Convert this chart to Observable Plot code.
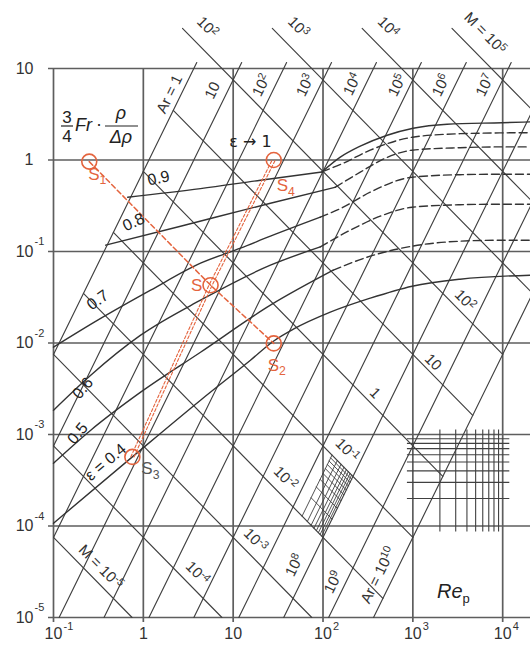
<!DOCTYPE html>
<html><head><meta charset="utf-8">
<script src="https://cdn.jsdelivr.net/npm/d3@7"></script>
<script src="https://cdn.jsdelivr.net/npm/@observablehq/plot@0.6"></script>
<style>body{margin:0;background:#fff}</style>
</head><body><div id="chart"></div>
<script>
// ---------- axis ticks ----------
const xTicks = [0.1, 1, 10, 100, 1000, 10000];
const xTickBase = ["10", "1", "10", "10", "10", "10"];
const xTickExp = ["-1", "", "", "2", "3", "4"];
const yTicks = [1e-5, 1e-4, 1e-3, 1e-2, 1e-1, 1, 10];
const yTickBase = ["10", "10", "10", "10", "10", "1", "10"];
const yTickExp = ["-5", "-4", "-3", "-2", "-1", "", ""];

// ---------- parameter lines ----------
const arValues = [1, 1e1, 1e2, 1e3, 1e4, 1e5, 1e6, 1e7, 1e8, 1e9, 1e10];
const mValues = [1e-5, 1e-4, 1e-3, 1e-2, 1e-1, 1, 1e1, 1e2, 1e3, 1e4, 1e5];
const subSteps = [2, 3, 4, 5, 6, 7, 8, 9];

// Ar labels (text, Re, Y)
const arLabelText = ["Ar = 1", "10", "10^2", "10^3", "10^4", "10^5", "10^6", "10^7", "10^8", "10^9", "Ar = 10^10"];
const arLabelRe = [1.96, 5.89, 20.6, 63.5, 212, 670, 2061, 6350, 48, 130, 411];
const arLabelY = [5.24, 5.78, 6.55, 6.55, 6.73, 6.55, 6.55, 6.55, 3.73e-5, 2.43e-5, 2.9e-5];
// M labels
const mLabelText = ["10^2", "10^3", "10^4", "M = 10^5", "10^2", "10", "1", "10^-1", "10^-2", "10^-3", "10^-4", "M = 10^-5"];
const mLabelRe = [5.18, 53.2, 532, 6360, 3815, 1683, 381, 186, 38.1, 17.7, 4.01, 0.336];
const mLabelY = [28.3, 28.3, 28.3, 24.3, 0.0294, 6.18e-3, 2.83e-3, 6.75e-4, 3.33e-4, 7e-5, 3.05e-5, 3.55e-5];

// ---------- voidage curves ----------
const eps1Re = [97.5, 155.7, 259.7, 518, 1008, 2405, 9822, 20100];
const eps1Y = [0.741, 1.073, 1.415, 1.866, 2.226, 2.462, 2.557, 2.609];
const eps09Re = [0.669, 4.33, 20.1, 97.5, 168, 335, 993, 3355, 9822, 20100];
const eps09Y = [0.392, 0.486, 0.601, 0.741, 0.923, 1.28, 1.775, 1.94, 1.978, 1.988];
const eps08Re = [0.381, 2.597, 25.97, 137, 259.7, 492.4, 982, 3355, 9822, 20100];
const eps08Y = [0.1172, 0.189, 0.337, 0.5043, 0.7357, 1.046, 1.28, 1.363, 1.391, 1.391];
const eps07Re = [0.1, 0.3106, 1.205, 4.33, 12.05, 25.97, 93.3, 168, 335, 982, 3355, 9822, 20100];
const eps07Y = [0.009, 0.01775, 0.03776, 0.07449, 0.1087, 0.147, 0.2371, 0.3049, 0.4446, 0.6486, 0.6909, 0.6996, 0.6996];
const eps06Re = [0.1, 0.2597, 0.9333, 4.33, 25.97, 93.3, 201, 433.2, 982, 3355, 9822, 20100];
const eps06Y = [1.843e-3, 4.446e-3, 0.01217, 0.02936, 0.07084, 0.1123, 0.1709, 0.2431, 0.3049, 0.3246, 0.3289, 0.3289];
const eps05Re = [0.1, 0.2597, 0.9333, 4.33, 25.97, 130.1, 335, 982, 3355, 9822, 20100];
const eps05Y = [4.856e-4, 1.114e-3, 2.9e-3, 7.93e-3, 0.02589, 0.06246, 0.08884, 0.1143, 0.1296, 0.1329, 0.1329];
const eps04Re = [0.1, 0.7546, 4.33, 15.57, 28.04, 46.77, 120.5, 335.4, 982, 3355, 20100];
const eps04Y = [1.073e-4, 5.69e-4, 2.371e-3, 6.486e-3, 0.01046, 0.01415, 0.02171, 0.03087, 0.04176, 0.04981, 0.05508];
const epsNames = ["1", "0.9", "0.8", "0.7", "0.6", "0.5", "0.4"];
const epsSolidEnd = [7, 3, 3, 6, 5, 5, 10]; // last index of the solid part

const epsLabelText = ["0.9", "0.8", "0.7", "0.6", "0.5", "ε = 0.4"];
const epsLabelRe = [1.48, 0.78, 0.311, 0.212, 0.186, 0.381];
const epsLabelY = [0.632, 0.209, 0.0294, 3.2e-3, 1.03e-3, 4.98e-4];
const epsLabelRot = [-12, -25, -35, -50, -50, -40];
const epsArrowText = ["ε → 1"];
const epsArrowRe = [15.6];
const epsArrowY = [1.57];

// ---------- example states ----------
const stateName = ["S_1", "S", "S_2", "S_3", "S_4"];
const stateRe = [0.25, 5.6, 28.3, 0.755, 28.3];
const stateY = [0.96, 0.0428, 0.0099, 5.69e-4, 1.0];

// ---------- geometry helpers ----------
const xMax = 20400, yMin = 1e-5, yMax = 10;
const K = 0.75;
const arTopY = 11.6, mTopY = 27.5;
const gridColor = "#5e5e5e", lineColor = "#404040", red = "#e4643e";

const arLines = arValues.flatMap(ar => {
  const r0 = Math.max(0.1, Math.sqrt(ar * yMin / K));
  const r1 = Math.min(xMax, Math.sqrt(ar * arTopY / K));
  return [r0, r1].map(r => ({ar, Re: r, Y: K * r * r / ar}));
});
const mLines = mValues.flatMap(m => {
  const top = m >= 100 ? mTopY : yMax;
  let r0 = Math.max(0.1, K * m / top);
  const rc = Math.cbrt(m);
  if (K * m / rc <= yMax) r0 = Math.max(r0, rc);
  const r1 = Math.min(xMax, K * m / yMin, Math.cbrt(1e10 * m));
  return [r0, r1].map(r => ({m, Re: r, Y: K * m / r}));
});
// skewed logarithmic sub-grid between Ar 1e7..1e8 and M 1e-2..1e-1
const fanAr = subSteps.flatMap(k => {
  const ar = k * 1e7;
  return [Math.cbrt(1e-2 * ar), Math.cbrt(1e-1 * ar)].map(r => ({k, Re: r, Y: K * r * r / ar}));
});
const fanM = subSteps.flatMap(k => {
  const m = k * 1e-2;
  return [Math.cbrt(m * 2e7), Math.cbrt(m * 1e8)].map(r => ({k, Re: r, Y: K * m / r}));
});
// rectangular logarithmic sub-grid
const subH = subSteps.map(k => k * 1e-4);
const subV = subSteps.map(k => k * 1e3);

const epsRe = [eps1Re, eps09Re, eps08Re, eps07Re, eps06Re, eps05Re, eps04Re];
const epsY = [eps1Y, eps09Y, eps08Y, eps07Y, eps06Y, eps05Y, eps04Y];
const epsSolid = [], epsDashed = [];
epsNames.forEach((e, i) => {
  epsRe[i].forEach((r, j) => {
    if (j <= epsSolidEnd[i]) epsSolid.push({e, Re: r, Y: epsY[i][j]});
    if (j >= epsSolidEnd[i] && epsSolidEnd[i] < epsRe[i].length - 1) epsDashed.push({e, Re: r, Y: epsY[i][j]});
  });
});

const yTickRows = yTicks.map((v, i) => ({v, b: yTickBase[i], e: yTickExp[i]}));
const xTickRows = xTicks.map((v, i) => ({v, b: xTickBase[i], e: xTickExp[i]}));
const arLab = arLabelText.map((t, i) => ({t, Re: arLabelRe[i], Y: arLabelY[i]}));
const mLab = mLabelText.map((t, i) => ({t, Re: mLabelRe[i], Y: mLabelY[i]}));
const epsLab = epsLabelText.map((t, i) => ({t, Re: epsLabelRe[i], Y: epsLabelY[i], r: epsLabelRot[i]}));
const epsArrow = epsArrowText.map((t, i) => ({t, Re: epsArrowRe[i], Y: epsArrowY[i]}));
const states = stateName.map((n, i) => ({n, Re: stateRe[i], Y: stateY[i]}));
const pathM = [states[0], states[1], states[2]];
const pathAr = [states[3], states[1], states[4]];
// label offsets of the states (px)
const stateDx = [8, -14, 3, 18, 12];
const stateDy = [13, 0, 22, 12, 26];

const font = "Liberation Sans, Arial, Helvetica, sans-serif";

const stateLabels = states.map((s, i) => Plot.text([s], {x: "Re", y: "Y", text: "n", fontSize: 17,
  fill: s.n === "S_3" ? "#555" : red, dx: stateDx[i], dy: stateDy[i]}));

const plot = Plot.plot({
  width: 530, height: 659,
  marginLeft: 53, marginRight: 0, marginTop: 68, marginBottom: 42,
  x: {type: "log", domain: [0.1, xMax], axis: null},
  y: {type: "log", domain: [yMin, yMax], axis: null},
  style: {fontFamily: font, background: "white", overflow: "visible"},
  marks: [
    // grid with small overhang ticks
    Plot.ruleX(xTicks, {x: d => d, y1: 8.8e-6, y2: yMax, stroke: gridColor, strokeWidth: 1.7}),
    Plot.ruleY(yTicks, {y: d => d, x1: 0.088, x2: xMax, stroke: gridColor, strokeWidth: 1.7}),
    // log sub-grid
    Plot.ruleY(subH, {y: d => d, x1: 870, x2: 12000, stroke: lineColor, strokeWidth: 1.1}),
    Plot.ruleX(subV, {x: d => d, y1: 8.6e-5, y2: 1.12e-3, stroke: lineColor, strokeWidth: 1.1}),
    // parameter lines
    Plot.line(arLines, {x: "Re", y: "Y", z: "ar", stroke: lineColor, strokeWidth: 1.15}),
    Plot.line(mLines, {x: "Re", y: "Y", z: "m", stroke: lineColor, strokeWidth: 1.15}),
    Plot.line(fanAr, {x: "Re", y: "Y", z: "k", stroke: lineColor, strokeWidth: 0.9}),
    Plot.line(fanM, {x: "Re", y: "Y", z: "k", stroke: lineColor, strokeWidth: 0.9}),
    // voidage curves
    Plot.line(epsSolid, {x: "Re", y: "Y", z: "e", stroke: "#333", strokeWidth: 1.4, curve: "monotone-x"}),
    Plot.line(epsDashed, {x: "Re", y: "Y", z: "e", stroke: "#333", strokeWidth: 1.4, strokeDasharray: "8,4", curve: "monotone-x"}),
    // example paths
    Plot.line(pathM, {x: "Re", y: "Y", stroke: red, strokeWidth: 1.5, strokeDasharray: "5,3"}),
    Plot.line(pathAr, {x: "Re", y: "Y", stroke: red, strokeWidth: 1.1, strokeDasharray: "3,2", dx: -1.6}),
    Plot.line(pathAr, {x: "Re", y: "Y", stroke: red, strokeWidth: 1.1, strokeDasharray: "3,2", dx: 1.6}),
    Plot.dot(states, {x: "Re", y: "Y", r: 7.5, stroke: red, strokeWidth: 1.6, fill: "none"}),
    // labels of lines
    Plot.text(arLab, {x: "Re", y: "Y", text: "t", rotate: -64, fontSize: 15, fill: "#333"}),
    Plot.text(mLab, {x: "Re", y: "Y", text: "t", rotate: 45, fontSize: 15, fill: "#333"}),
    Plot.text(epsLab, {x: "Re", y: "Y", text: "t", rotate: "r", fontSize: 16, fill: "#222"}),
    Plot.text(epsArrow, {x: "Re", y: "Y", text: "t", fontSize: 16, fill: "#222", fontFamily: "DejaVu Sans, sans-serif"}),
    // tick labels
    Plot.text(yTickRows, {x: 0.1, y: "v", text: "b", textAnchor: "end", dx: -20, fontSize: 16, fill: "#333"}),
    Plot.text(yTickRows.filter(d => d.e), {x: 0.1, y: "v", text: "e", textAnchor: "start", dx: -19, dy: -10, fontSize: 11, fill: "#333"}),
    Plot.text(xTickRows, {x: "v", y: yMin, text: "b", dy: 16, fontSize: 16, fill: "#333"}),
    Plot.text(xTickRows.filter(d => d.e), {x: "v", y: yMin, text: "e", textAnchor: "start", dx: 10, dy: 9, fontSize: 11, fill: "#333"}),
    ...stateLabels
  ]
});

// rich text: ^ superscript, _ subscript
d3.select(plot).selectAll("text").each(function() {
  const el = this;
  const tgt = el.querySelector("tspan") ? el.querySelectorAll("tspan") : [el];
  tgt.forEach(node => {
    const s = node.textContent;
    if (!/[\^_]/.test(s)) return;
    const m = s.match(/^(.*?)([\^_])(.+)$/);
    node.textContent = "";
    const sel = d3.select(node);
    sel.append("tspan").text(m[1]);
    sel.append("tspan").attr("dy", m[2] === "^" ? "-0.45em" : "0.35em").attr("font-size", "72%").text(m[3]);
  });
});

// axis title and Re_p
const svg = d3.select(plot);
const g = svg.append("g").attr("font-family", font).attr("fill", "#222").attr("text-anchor", "start");
g.append("text").attr("x", 67).attr("y", 123).attr("text-anchor", "middle").attr("font-size", 17).text("3");
g.append("text").attr("x", 67).attr("y", 142).attr("text-anchor", "middle").attr("font-size", 17).text("4");
g.append("line").attr("x1", 61).attr("x2", 73).attr("y1", 126).attr("y2", 126).attr("stroke", "#222").attr("stroke-width", 1.2);
g.append("text").attr("x", 75).attr("y", 131).attr("font-size", 18).attr("font-style", "italic").text("Fr");
g.append("text").attr("x", 96).attr("y", 130).attr("font-size", 18).text("·");
g.append("text").attr("x", 121).attr("y", 119).attr("text-anchor", "middle").attr("font-size", 18).attr("font-style", "italic").text("ρ");
g.append("text").attr("x", 121).attr("y", 143).attr("text-anchor", "middle").attr("font-size", 18).attr("font-style", "italic").text("Δρ");
g.append("line").attr("x1", 105).attr("x2", 138).attr("y1", 126).attr("y2", 126).attr("stroke", "#222").attr("stroke-width", 1.2);
const rp = g.append("text").attr("x", 437).attr("y", 598).attr("font-size", 20).attr("font-style", "italic");
rp.append("tspan").text("Re");
rp.append("tspan").attr("dy", 5).attr("font-size", 13).attr("font-style", "normal").text("p");

document.getElementById("chart").appendChild(plot);
</script>
</body></html>
